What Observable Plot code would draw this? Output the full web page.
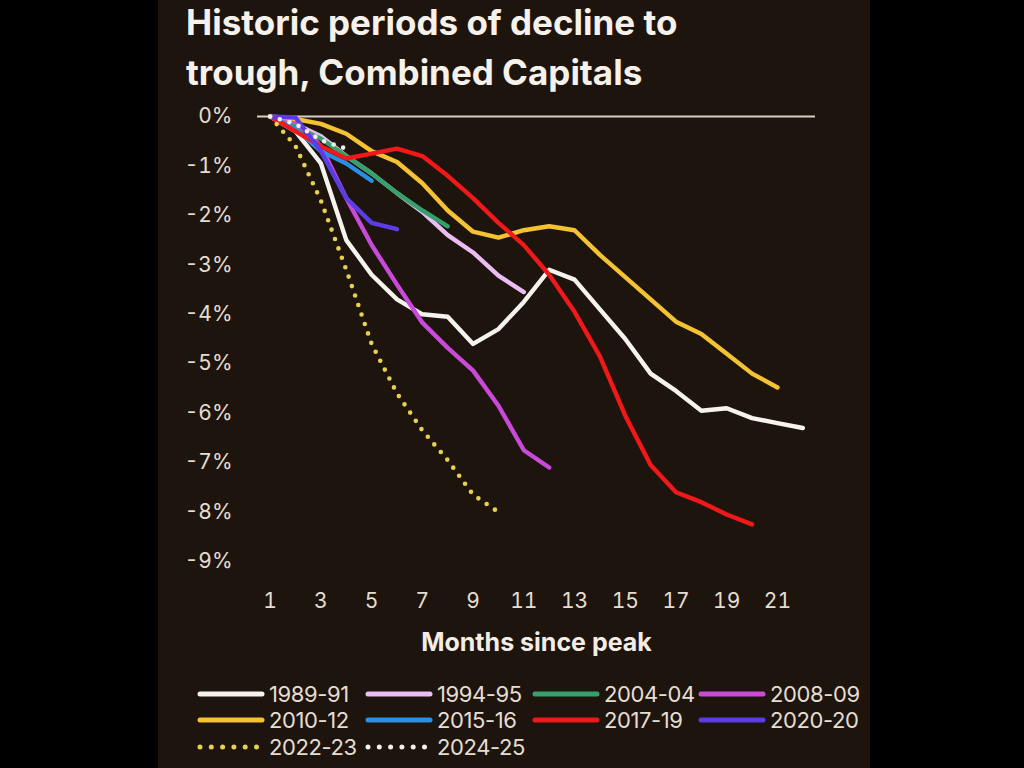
<!DOCTYPE html>
<html>
<head>
<meta charset="utf-8">
<script src="https://cdn.jsdelivr.net/npm/d3@7"></script>
<script src="https://cdn.jsdelivr.net/npm/@observablehq/plot@0.6"></script>
<style>
  html, body { margin: 0; padding: 0; background: #000; width: 1024px; height: 768px; overflow: hidden; }
  #panel { position: absolute; left: 158px; top: 0; width: 712px; height: 768px; background: #1d150d; overflow: hidden; font-family: Inter, "DejaVu Sans", sans-serif; }
  #title { position: absolute; left: 28px; top: -3px; color: #f6f1ea; font-weight: 700; font-size: 35px; line-height: 50px; letter-spacing: 0px; white-space: nowrap; }
  #chart { position: absolute; left: 0; top: 95px; }
  #legend { position: absolute; left: 0; top: 0; width: 712px; height: 768px; pointer-events: none; }
  .item { position: absolute; display: flex; align-items: center; height: 26px; color: #e6ddd2; font-size: 22px; letter-spacing: -0.4px; white-space: nowrap; }
  .item svg { margin-right: 4px; }
</style>
</head>
<body>
<div id="panel">
  <div id="title">Historic periods of decline to<br>trough, Combined Capitals</div>
  <div id="chart"></div>
  <div id="legend"></div>
</div>
<script>
// ---- data (values in %, month index starts at 1) ----
const seriesNames = ["1989-91", "1994-95", "2004-04", "2008-09", "2010-12", "2015-16", "2017-19", "2020-20", "2022-23", "2024-25"];
const seriesColors = ["#f6f3ef", "#ecbdf3", "#34a06c", "#c94ad8", "#f4c233", "#2a8fe2", "#f01818", "#5a3de4", "#e9d04e", "#f3efea"];
const seriesDotted = [false, false, false, false, false, false, false, false, true, true];

const v1989 = [0, -0.3, -0.95, -2.5, -3.2, -3.7, -4.0, -4.05, -4.6, -4.3, -3.75, -3.1, -3.3, -3.9, -4.5, -5.2, -5.55, -5.95, -5.9, -6.1, -6.2, -6.3];
const v1994 = [0, -0.15, -0.4, -0.8, -1.15, -1.55, -1.93, -2.4, -2.75, -3.22, -3.55];
const v2004 = [0, -0.2, -0.45, -0.8, -1.15, -1.55, -1.9, -2.22];
const v2008 = [0, -0.1, -0.6, -1.65, -2.6, -3.4, -4.17, -4.68, -5.14, -5.85, -6.75, -7.1];
const v2010 = [0, -0.05, -0.15, -0.35, -0.7, -0.92, -1.35, -1.9, -2.33, -2.45, -2.3, -2.22, -2.3, -2.8, -3.25, -3.7, -4.15, -4.4, -4.8, -5.2, -5.48];
const v2015 = [0, -0.25, -0.7, -0.95, -1.3];
const v2017 = [0, -0.3, -0.6, -0.85, -0.75, -0.65, -0.8, -1.2, -1.65, -2.15, -2.6, -3.2, -3.95, -4.85, -6.05, -7.05, -7.6, -7.8, -8.05, -8.25];
const v2020 = [0, -0.02, -0.7, -1.65, -2.15, -2.28];
const v2022 = [0, -0.6, -1.7, -3.1, -4.6, -5.6, -6.35, -6.95, -7.65, -8.0];
const v2024 = [0, -0.15, -0.48, -0.65];

const seriesValues = [v1989, v1994, v2004, v2008, v2010, v2015, v2017, v2020, v2022, v2024];

const xTicks = [1, 3, 5, 7, 9, 11, 13, 15, 17, 19, 21];
const yTicks = [0, -1, -2, -3, -4, -5, -6, -7, -8, -9];
const xLabel = "Months since peak";

// ---- build ----
const rows = seriesValues.map((vals, i) => vals.map((v, j) => ({month: j + 1, value: v, name: seriesNames[i]})));

const lineMarks = rows.map((data, i) => Plot.line(data, {
  x: "month", y: "value",
  stroke: seriesColors[i],
  strokeWidth: seriesDotted[i] ? 4.6 : 4.4,
  strokeLinecap: "round",
  strokeLinejoin: "round",
  strokeDasharray: seriesDotted[i] ? "0,10" : null
}));

const chart = Plot.plot({
  width: 712,
  height: 580,
  marginLeft: 99,
  marginRight: 55,
  marginTop: 21,
  marginBottom: 114,
  style: {background: "transparent", color: "#e6ddd2", fontFamily: "Inter, 'DejaVu Sans', sans-serif", fontSize: "21px"},
  x: {domain: [0.5, 22.5], ticks: xTicks, tickSize: 0, tickPadding: 32, label: null, tickFormat: d => String(d)},
  y: {domain: [-9, 0], ticks: yTicks, tickSize: 0, tickPadding: 25, label: null, tickFormat: d => `${d}%`},
  marks: [
    Plot.ruleY([0], {stroke: "#d9d0c3", strokeWidth: 2}),
    ...lineMarks,
    Plot.text([xLabel], {frameAnchor: "bottom", dy: 89, text: d => d, fill: "#f3ede5", fontWeight: 700, fontSize: 25, letterSpacing: -0.5})
  ]
});
document.getElementById("chart").appendChild(chart);

// ---- legend ----
const legend = document.getElementById("legend");
const colX = [39, 207, 374, 540];
const rowY = [694, 720, 747];
seriesNames.forEach((name, i) => {
  const item = document.createElement("div");
  item.className = "item";
  item.style.left = colX[i % 4] + "px";
  item.style.top = (rowY[Math.floor(i / 4)] - 13) + "px";
  const ns = "http://www.w3.org/2000/svg";
  const svg = document.createElementNS(ns, "svg");
  svg.setAttribute("width", 68);
  svg.setAttribute("height", 12);
  const ln = document.createElementNS(ns, "line");
  ln.setAttribute("x1", 3); ln.setAttribute("x2", 65);
  ln.setAttribute("y1", 6); ln.setAttribute("y2", 6);
  ln.setAttribute("stroke", seriesColors[i]);
  ln.setAttribute("stroke-width", 5);
  ln.setAttribute("stroke-linecap", "round");
  if (seriesDotted[i]) ln.setAttribute("stroke-dasharray", "0,11.3");
  svg.appendChild(ln);
  item.appendChild(svg);
  const t = document.createElement("span");
  t.textContent = name;
  item.appendChild(t);
  legend.appendChild(item);
});
</script>
</body>
</html>
